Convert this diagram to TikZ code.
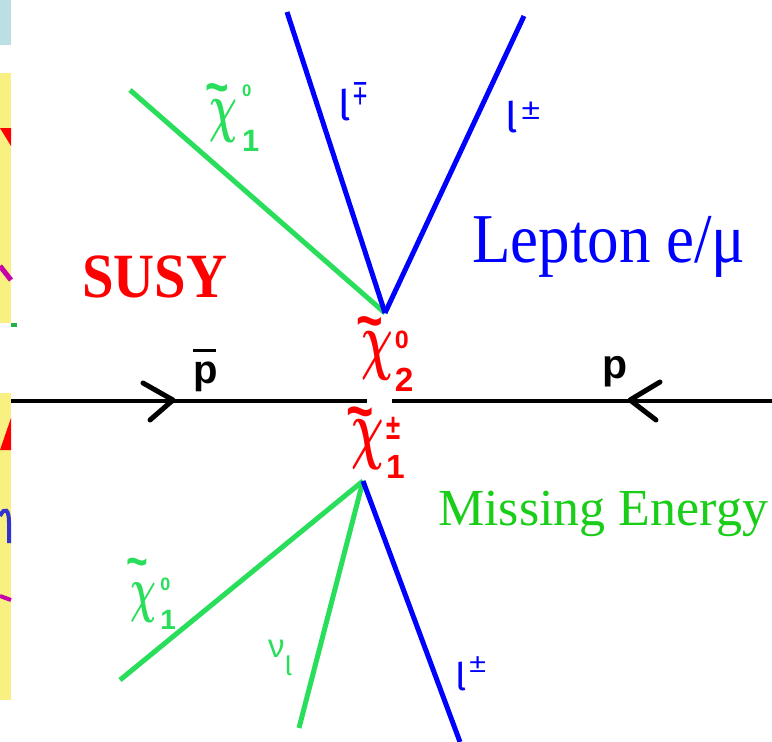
\RequirePackage{fix-cm}
\documentclass[tikz,border=0pt]{standalone}
\usepackage{fontspec}
\usepackage{graphicx}
\setmainfont{Liberation Serif}
\newfontfamily\symfont{Liberation Sans}
\newfontfamily\ellfont{Fira Sans}
\usetikzlibrary{calc}

% tilde over chi (optional arg pulls the tilde down), and stacked super/subscripts
\newcommand{\tchi}[1][0.14em]{\leavevmode\vbox{\offinterlineskip\halign{\hfil##\hfil\cr
  {\symfont\bfseries\scalebox{0.6}[0.8]{\char"7E}}\kern0.2em\cr\noalign{\kern-#1}\scalebox{0.58}[1]{\boldmath$\chi$}\cr}}}
\newcommand{\supsub}[4]{\rlap{\raisebox{#3}{#1}}\raisebox{#4}{#2}}
\newcommand{\mpsign}{\rotatebox[origin=c]{180}{±}}
\newcommand{\pbar}{\rlap{\raisebox{0.78em}{\rule{0.56em}{0.07em}}}p}

\begin{document}
\begin{tikzpicture}[
  x=1pt, y=-1pt,
  lbl/.style={inner sep=0pt, anchor=base west},
  lep/.style={lepblue, line width=5pt},
  neu/.style={neugreen, line width=5pt},
  beam/.style={black, line width=4pt},
  chev/.style={black, line width=5pt, line cap=round, line join=round}
]
  \definecolor{lepblue}{RGB}{0,0,255}
  \definecolor{susyred}{RGB}{255,0,0}
  \definecolor{neugreen}{RGB}{40,222,90}
  \definecolor{missgreen}{RGB}{25,205,25}
  \definecolor{slideyellow}{RGB}{248,240,128}
  \definecolor{slideblue}{RGB}{188,223,227}
  \definecolor{fragmag}{RGB}{200,0,170}
  \definecolor{fragblue}{RGB}{50,50,205}

  \useasboundingbox (0,0) rectangle (772,742);

  % cut-off pieces of the neighbouring slides
  \fill[slideblue] (0,0) rectangle (11,45);
  \fill[slideyellow] (0,73) rectangle (11,323);
  \fill[slideyellow] (0,393) rectangle (11,700);
  \fill[susyred] (0,128) -- (11,128) -- (11,146) -- cycle;
  \draw[fragmag, line width=5pt] (0,266) -- (11,280);
  \draw[neugreen!80!black, line width=4pt] (11,325) -- (17,325);
  \fill[susyred] (11,418) -- (11,450) -- (0,450) -- cycle;
  \draw[fragblue, line width=4pt] (0,516) .. controls (5,506) and (9,510) .. (9,522) -- (9,543);
  \draw[fragmag, line width=4pt] (0,596) -- (11,600);

  % vertices and free ends
  \coordinate (vtop) at (385,313);
  \coordinate (vbot) at (363,481);
  \coordinate (lepA) at (287,12);
  \coordinate (lepB) at (524,16);
  \coordinate (neuA) at (130,90);
  \coordinate (neuB) at (120,680);
  \coordinate (nuend) at (299,728);
  \coordinate (lepC) at (460,742);
  \coordinate (pbarin) at (11,401);
  \coordinate (pbarout) at (367,401);
  \coordinate (pin) at (772,401);
  \coordinate (pout) at (392,401);

  % beams
  \draw[beam] (pbarin) -- (pbarout);
  \draw[beam] (pin) -- (pout);
  \draw[chev] (143,383) -- (173,400) -- (150,420);
  \draw[chev] (660,382) -- (630,400) -- (656,420);

  % decay products
  \draw[neu] (vtop) -- (neuA);
  \draw[lep] (vtop) -- (lepA);
  \draw[lep] (vtop) -- (lepB);
  \draw[neu] (vbot) -- (neuB);
  \draw[neu] (vbot) -- (nuend);
  \draw[lep] (vbot) -- (lepC);

  % particle labels
  \node[lbl, font=\fontsize{40}{40}\selectfont\symfont\bfseries] (pbarlbl) at (193,383) {\pbar};
  \node[lbl, font=\fontsize{41}{41}\selectfont\symfont\bfseries] (plbl) at (602,378) {p};
  \node[lbl, font=\fontsize{76}{76}\selectfont, text=susyred] (chitwo) at (356,365)
    {\tchi[0.14em]\kern-0.04em\supsub{\symfont\bfseries\scalebox{0.33}{0}}{\symfont\bfseries\scalebox{0.44}{2}}{0.22em}{-0.355em}};
  \node[lbl, font=\fontsize{78}{78}\selectfont, text=susyred] (chipm) at (346,454)
    {\tchi[0.17em]\kern-0.04em\supsub{\symfont\bfseries\scalebox{0.33}[0.46]{±}}{\symfont\bfseries\scalebox{0.43}{1}}{0.19em}{-0.31em}};
  \node[lbl, font=\fontsize{67}{67}\selectfont, text=neugreen] (chiup) at (205,129)
    {\tchi[0.09em]\kern0em\supsub{\symfont\bfseries\scalebox{0.25}{0}}{\symfont\bfseries\scalebox{0.46}{1}}{0.48em}{-0.34em}};
  \node[lbl, font=\fontsize{62}{62}\selectfont, text=neugreen] (chidn) at (126,610)
    {\tchi[-0.065em]\kern0em\supsub{\symfont\bfseries\scalebox{0.29}{0}}{\symfont\bfseries\scalebox{0.45}{1}}{0.32em}{-0.32em}};
  \node[lbl, font=\fontsize{42}{42}\selectfont\ellfont, text=lepblue] (lepAlbl) at (338,120)
    {l\kern0.08em\raisebox{0.36em}{\symfont\scalebox{0.6}[0.9]{\mpsign}}};
  \node[lbl, font=\fontsize{42}{42}\selectfont\ellfont, text=lepblue] (lepBlbl) at (505,132)
    {l\kern0.1em\raisebox{0.3em}{\symfont\scalebox{0.8}[0.7]{±}}};
  \node[lbl, font=\fontsize{38}{38}\selectfont\ellfont, text=lepblue] (lepClbl) at (455,690)
    {l\kern0.08em\raisebox{0.45em}{\symfont\scalebox{0.8}[0.7]{±}}};
  \node[lbl, font=\fontsize{33}{33}\selectfont\symfont, text=neugreen] (nulbl) at (268,657)
    {ν\raisebox{-0.55em}{\ellfont\scalebox{0.8}{l}}};

  % captions
  \node[lbl, font=\fontsize{63}{63}\selectfont\bfseries, text=susyred] (susy) at (82,297)
    {\scalebox{0.9}[1]{SUSY}};
  \node[lbl, font=\fontsize{70}{70}\selectfont, text=lepblue] (lepton) at (472,262)
    {\scalebox{0.9}[1]{Lepton e/μ}};
  \node[lbl, font=\fontsize{52}{52}\selectfont, text=missgreen] (missing) at (438,525)
    {Missing Energy};
\end{tikzpicture}
\end{document}
